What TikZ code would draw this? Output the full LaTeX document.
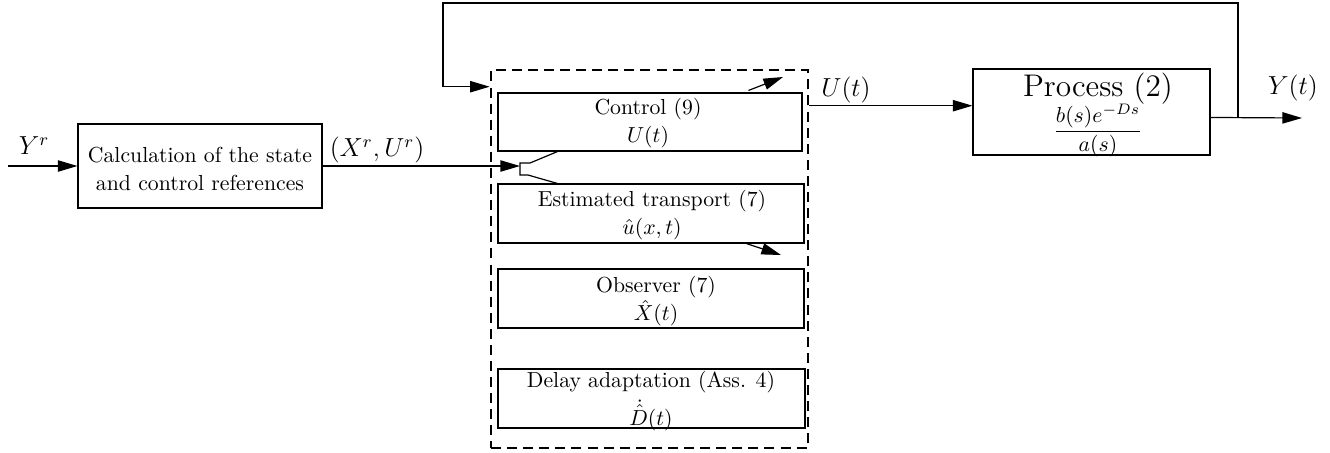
\documentclass[tikz,border=0pt]{standalone}
\usepackage{amsmath}
\usetikzlibrary{arrows.meta,fit}

\tikzset{
  blk/.style={draw, line width=0.5pt, inner sep=0pt, align=center},
  grp/.style={draw, line width=1.2pt, dash pattern=on 4.6pt off 2.8pt, inner sep=0pt},
  conn/.style={line width=0.55pt},
  arr/.style={conn, -{Triangle[length=9pt,width=5.2pt]}},
  lbl/.style={inner sep=0pt}
}

\begin{document}
\begin{tikzpicture}[x=0.46pt, y=-0.46pt]
\useasboundingbox (0,0) rectangle (1330,452);

% reference generator
\node[blk, fit={(78,124) (322,208)}] (calc) {};
\node[lbl, align=center] at (200,169) {Calculation of the state\\[1pt]and control references};

% controller group
\node[grp, fit={(491,70) (808,448)}] (group) {};
\node[blk, fit={(498,93) (802,151)}] (ctrl) {};
\node[lbl, align=center] at (648,123) {Control (9)\\[1pt]$U(t)$};
\node[blk, fit={(498,184) (804,243)}] (est) {};
\node[lbl, align=center] at (652,215) {Estimated transport (7)\\[1pt]$\hat{u}(x,t)$};
\node[blk, fit={(498,269) (804,328)}] (obs) {};
\node[lbl, align=center] at (656,301) {Observer (7)\\[1pt]$\hat{X}(t)$};
\node[blk, fit={(498,369) (805,428)}] (delay) {};
\node[lbl, align=center] at (651,401) {Delay adaptation (Ass. 4)\\[2pt]$\dot{\hat{D}}(t)$};

% plant
\node[blk, fit={(973,69) (1210,155)}] (proc) {};
\node[lbl, align=center] at (1098,115) {{\Large Process (2)}\\[-1pt]$\dfrac{b(s)e^{-Ds}}{a(s)}$};

% reference input
\coordinate (yin) at (8,166);
\draw[arr] (yin) -- (calc.west);
\node[lbl] at (34,146) {\large $Y^r$};

% references to the controller
\coordinate (fork) at (520,166);
\draw[arr] (calc.east) -- (fork);
\node[lbl] at (377,150) {\large $(X^r,U^r)$};
\path (ctrl.south west) ++(60,0) coordinate (ctrlin);
\path (est.north west) ++(60,0) coordinate (estin);
\draw[conn] (fork) -- ++(0,-3) -- ++(10,0) -- (ctrlin);
\draw[conn] (fork) -- ++(0,9) -- ++(8,0) -- (estin);

% internal signals
\path (ctrl.north west) ++(251,-2) coordinate (ctrlout);
\coordinate (ctrltip) at (783,77);
\draw[arr] (ctrlout) -- (ctrltip);
\path (est.south west) ++(249,0) coordinate (estout);
\coordinate (esttip) at (781,255);
\draw[arr] (estout) -- (esttip);

% control signal to the plant
\path (group.north east) ++(0,37) coordinate (uout);
\draw[arr] (uout) -- (uout -| proc.west);
\node[lbl] at (846,90) {\large $U(t)$};

% plant output and feedback
\path (proc.north east) ++(0,49) coordinate (yout);
\coordinate (yend) at (1302,118);
\coordinate (tap) at (1238,118);
\draw[arr] (yout) -- (yend);
\node[lbl] at (1293,88) {\large $Y(t)$};
\coordinate (fbtop) at (1238,3);
\coordinate (fbleft) at (443,3);
\path (group.north west) ++(0,18) coordinate (gin);
\draw[arr] (tap) -- (fbtop) -- (fbleft) |- (gin);
\end{tikzpicture}
\end{document}
